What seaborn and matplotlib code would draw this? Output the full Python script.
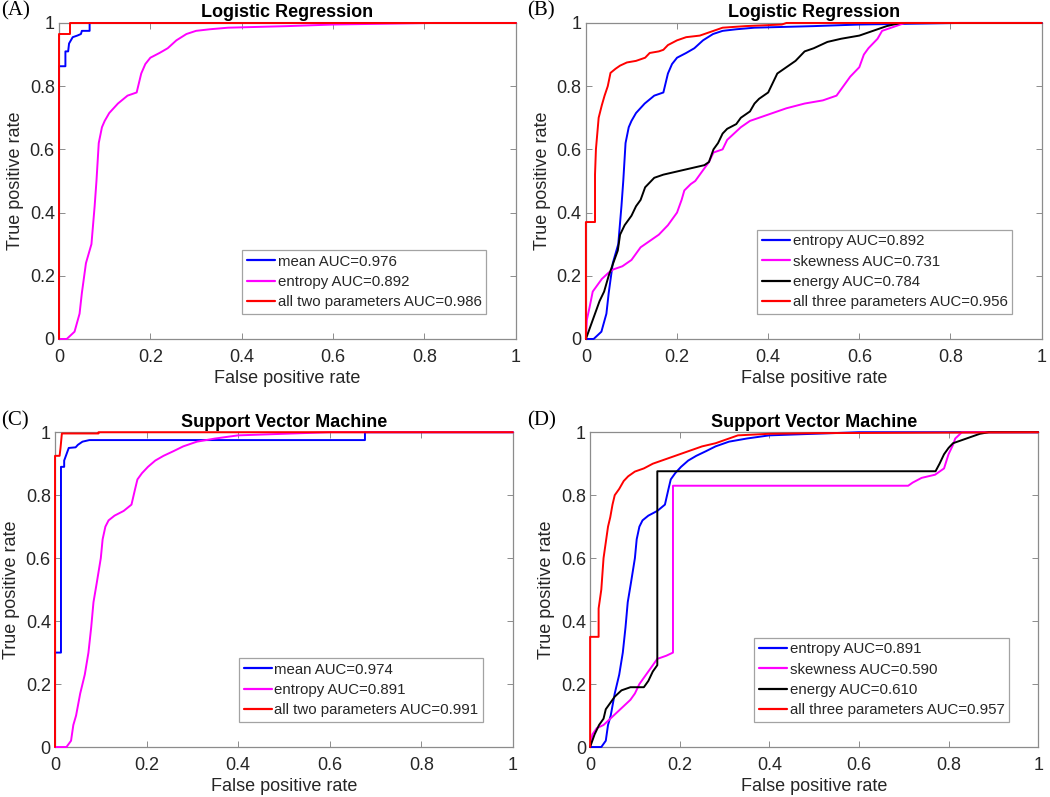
import numpy as np
import pandas as pd
import seaborn as sns
import matplotlib.pyplot as plt

# --- ROC curve vertices (FPR, TPR) ---

# Logistic regression
lr_mean_fpr = [0, 0, 0.014, 0.014, 0.02, 0.022, 0.03, 0.04, 0.048, 0.05, 0.067, 0.067, 1]
lr_mean_tpr = [0, 0.863, 0.863, 0.91, 0.91, 0.935, 0.955, 0.96, 0.965, 0.975, 0.975, 1, 1]

lr_entropy_fpr = [0, 0.017, 0.034, 0.045, 0.05, 0.059, 0.071, 0.078, 0.082, 0.087, 0.094, 0.1,
                  0.11, 0.129, 0.15, 0.17, 0.18, 0.189, 0.2, 0.22, 0.238, 0.257, 0.279,
                  0.3, 0.33, 0.37, 0.5, 0.6, 0.82, 1]
lr_entropy_tpr = [0, 0, 0.023, 0.08, 0.145, 0.24, 0.3, 0.42, 0.5, 0.62, 0.67, 0.69,
                  0.715, 0.745, 0.77, 0.78, 0.84, 0.87, 0.89, 0.905, 0.92, 0.945, 0.965,
                  0.975, 0.98, 0.985, 0.99, 0.995, 1, 1]

lr_two_fpr = [0, 0, 0.024, 0.024, 1]
lr_two_tpr = [0, 0.965, 0.965, 1, 1]

lr_skew_fpr = [0, 0.002, 0.008, 0.015, 0.025, 0.035, 0.05, 0.06, 0.08, 0.1, 0.11, 0.12, 0.14,
               0.16, 0.18, 0.19, 0.2, 0.21, 0.216, 0.23, 0.24, 0.26, 0.27, 0.28, 0.3, 0.31,
               0.34, 0.36, 0.4, 0.44, 0.48, 0.52, 0.55, 0.565, 0.58, 0.6, 0.61, 0.62, 0.64,
               0.65, 0.68, 0.7, 1]
lr_skew_tpr = [0, 0.06, 0.1, 0.15, 0.17, 0.19, 0.21, 0.22, 0.23, 0.25, 0.27, 0.29, 0.31,
               0.33, 0.36, 0.38, 0.4, 0.44, 0.47, 0.49, 0.5, 0.54, 0.56, 0.59, 0.6, 0.63,
               0.67, 0.69, 0.71, 0.73, 0.745, 0.755, 0.77, 0.8, 0.83, 0.86, 0.9, 0.92, 0.95,
               0.975, 0.99, 1, 1]

lr_energy_fpr = [0, 0.01, 0.02, 0.03, 0.04, 0.05, 0.06, 0.07, 0.075, 0.085, 0.1, 0.11, 0.12,
                 0.13, 0.15, 0.17, 0.2, 0.23, 0.26, 0.27, 0.28, 0.29, 0.3, 0.31, 0.33, 0.34,
                 0.36, 0.37, 0.38, 0.4, 0.41, 0.42, 0.44, 0.46, 0.48, 0.5, 0.53, 0.56, 0.6,
                 0.63, 0.66, 0.69, 1]
lr_energy_tpr = [0, 0.04, 0.08, 0.12, 0.15, 0.2, 0.24, 0.28, 0.33, 0.36, 0.39, 0.42, 0.44,
                 0.48, 0.51, 0.52, 0.53, 0.54, 0.55, 0.56, 0.6, 0.62, 0.65, 0.665, 0.68, 0.7,
                 0.72, 0.745, 0.76, 0.78, 0.81, 0.84, 0.86, 0.88, 0.91, 0.92, 0.94, 0.95, 0.96,
                 0.975, 0.99, 1, 1]

lr_three_fpr = [0, 0, 0.02, 0.02, 0.022, 0.028, 0.035, 0.041, 0.048, 0.054, 0.065, 0.075,
                0.09, 0.11, 0.13, 0.14, 0.16, 0.17, 0.18, 0.2, 0.22, 0.25, 0.27, 0.3, 0.35,
                0.43, 0.44, 1]
lr_three_tpr = [0, 0.37, 0.37, 0.52, 0.6, 0.7, 0.74, 0.77, 0.8, 0.842, 0.855, 0.865,
                0.875, 0.88, 0.89, 0.905, 0.91, 0.915, 0.93, 0.945, 0.955, 0.96, 0.97, 0.985,
                0.99, 0.995, 1, 1]

# Support vector machine
svm_mean_fpr = [0, 0, 0.013, 0.013, 0.02, 0.02, 0.025, 0.03, 0.045, 0.05, 0.06, 0.075,
                0.677, 0.677, 1]
svm_mean_tpr = [0, 0.3, 0.3, 0.89, 0.89, 0.91, 0.93, 0.95, 0.952, 0.96, 0.97, 0.975,
                0.975, 1, 1]

svm_entropy_fpr = [0, 0.025, 0.035, 0.04, 0.046, 0.055, 0.065, 0.073, 0.079, 0.084, 0.091,
                   0.1, 0.104, 0.11, 0.117, 0.13, 0.15, 0.167, 0.175, 0.18, 0.19, 0.203,
                   0.219, 0.237, 0.259, 0.28, 0.31, 0.35, 0.4, 0.5, 0.6, 1]
svm_entropy_tpr = [0, 0, 0.02, 0.07, 0.1, 0.17, 0.23, 0.3, 0.38, 0.46, 0.52,
                   0.6, 0.66, 0.7, 0.72, 0.735, 0.75, 0.77, 0.82, 0.85, 0.87, 0.89,
                   0.91, 0.925, 0.94, 0.955, 0.97, 0.98, 0.99, 0.995, 1, 1]

svm_two_fpr = [0, 0, 0.01, 0.012, 0.015, 0.095, 0.095, 1]
svm_two_tpr = [0, 0.925, 0.925, 0.95, 0.996, 0.996, 1, 1]

svm_skew_fpr = [0, 0.005, 0.015, 0.03, 0.045, 0.06, 0.075, 0.09, 0.1, 0.11, 0.12, 0.13, 0.14,
                0.15, 0.17, 0.185, 0.185, 0.71, 0.72, 0.74, 0.77, 0.79, 0.8, 0.81, 0.815,
                0.83, 1]
svm_skew_tpr = [0, 0.04, 0.06, 0.07, 0.09, 0.11, 0.13, 0.15, 0.17, 0.2, 0.22, 0.24, 0.26,
                0.28, 0.29, 0.3, 0.83, 0.83, 0.84, 0.855, 0.865, 0.885, 0.93, 0.96, 0.98,
                1, 1]

svm_energy_fpr = [0, 0.01, 0.02, 0.03, 0.035, 0.045, 0.055, 0.07, 0.09, 0.12, 0.13, 0.14,
                  0.15, 0.15, 0.771, 0.78, 0.79, 0.8, 0.81, 0.83, 0.85, 0.87, 0.89, 1]
svm_energy_tpr = [0, 0.04, 0.07, 0.09, 0.12, 0.14, 0.16, 0.18, 0.19, 0.19, 0.21, 0.24,
                  0.26, 0.876, 0.876, 0.9, 0.93, 0.95, 0.965, 0.975, 0.985, 0.995, 1, 1]

svm_three_fpr = [0, 0, 0.019, 0.019, 0.025, 0.03, 0.035, 0.04, 0.045, 0.05, 0.055, 0.065,
                 0.075, 0.085, 0.1, 0.12, 0.14, 0.16, 0.19, 0.22, 0.25, 0.28, 0.3, 0.33,
                 0.4, 0.5, 1]
svm_three_tpr = [0, 0.35, 0.35, 0.44, 0.5, 0.6, 0.65, 0.7, 0.73, 0.77, 0.8, 0.82,
                 0.845, 0.86, 0.875, 0.885, 0.9, 0.91, 0.925, 0.94, 0.955, 0.965, 0.975, 0.99,
                 0.995, 0.997, 1]

BLUE, MAGENTA, BLACK, RED = "#0000ff", "#ff00ff", "#000000", "#ff0000"

# tag, title, axes rect, tag position (figure coords), curves
panels = [
    ("(A)", "Logistic Regression", [0.0562, 0.5747, 0.435, 0.3965], (0.001, 0.998),
     [("mean AUC=0.976", lr_mean_fpr, lr_mean_tpr, BLUE),
      ("entropy AUC=0.892", lr_entropy_fpr, lr_entropy_tpr, MAGENTA),
      ("all two parameters AUC=0.986", lr_two_fpr, lr_two_tpr, RED)]),
    ("(B)", "Logistic Regression", [0.558, 0.5747, 0.434, 0.3965], (0.502, 0.998),
     [("entropy AUC=0.892", lr_entropy_fpr, lr_entropy_tpr, BLUE),
      ("skewness AUC=0.731", lr_skew_fpr, lr_skew_tpr, MAGENTA),
      ("energy AUC=0.784", lr_energy_fpr, lr_energy_tpr, BLACK),
      ("all three parameters AUC=0.956", lr_three_fpr, lr_three_tpr, RED)]),
    ("(C)", "Support Vector Machine", [0.0524, 0.0627, 0.436, 0.395], (0.001, 0.484),
     [("mean AUC=0.974", svm_mean_fpr, svm_mean_tpr, BLUE),
      ("entropy AUC=0.891", svm_entropy_fpr, svm_entropy_tpr, MAGENTA),
      ("all two parameters AUC=0.991", svm_two_fpr, svm_two_tpr, RED)]),
    ("(D)", "Support Vector Machine", [0.562, 0.0627, 0.4267, 0.395], (0.502, 0.484),
     [("entropy AUC=0.891", svm_entropy_fpr, svm_entropy_tpr, BLUE),
      ("skewness AUC=0.590", svm_skew_fpr, svm_skew_tpr, MAGENTA),
      ("energy AUC=0.610", svm_energy_fpr, svm_energy_tpr, BLACK),
      ("all three parameters AUC=0.957", svm_three_fpr, svm_three_tpr, RED)]),
]

sns.set_theme(style="ticks")
plt.rcParams['font.family'] = ['Liberation Sans', 'DejaVu Sans']
plt.rcParams['text.color'] = '#262626'
plt.rcParams['axes.labelcolor'] = '#262626'
plt.rcParams['xtick.color'] = '#262626'
plt.rcParams['ytick.color'] = '#262626'

fig = plt.figure(figsize=(10.5, 7.97), dpi=100)

for tag, title, rect, tagpos, curves in panels:
    ax = fig.add_axes(rect)
    frames = []
    for name, fpr, tpr, color in curves:
        frames.append(pd.DataFrame({"fpr": fpr, "tpr": tpr, "curve": name}))
    df = pd.concat(frames, ignore_index=True)
    palette = {name: color for name, _, _, color in curves}
    sns.lineplot(data=df, x="fpr", y="tpr", hue="curve", palette=palette,
                 sort=False, estimator=None, linewidth=1.4, ax=ax)
    # MATLAB draws the curves over the box
    for ln in ax.lines:
        ln.set_clip_on(False)
        ln.set_zorder(3)

    ax.set_xlim(0, 1)
    ax.set_ylim(0, 1)
    ticks = [0, 0.2, 0.4, 0.6, 0.8, 1]
    ticklabels = ["0", "0.2", "0.4", "0.6", "0.8", "1"]
    ax.set_xticks(ticks)
    ax.set_xticklabels(ticklabels)
    ax.set_yticks(ticks)
    ax.set_yticklabels(ticklabels)
    ax.tick_params(direction="in", length=4, width=0.7, top=True, right=True,
                   labelsize=13, color="#8c8c8c")
    ax.tick_params(axis="x", pad=7)
    ax.tick_params(axis="y", pad=3)
    for sp in ax.spines.values():
        sp.set_visible(True)
        sp.set_color("#8c8c8c")
        sp.set_linewidth(0.9)
    ax.set_xlabel("False positive rate", fontsize=13, labelpad=3)
    ax.set_ylabel("True positive rate", fontsize=13, labelpad=4)
    ax.set_title(title, fontsize=13, fontweight="bold", pad=4, color="black")

    leg = ax.legend(loc="lower right", bbox_to_anchor=(0.935, 0.08), fontsize=10.8,
                    frameon=True, fancybox=False, handlelength=1.9, handletextpad=0.15,
                    borderpad=0.3, labelspacing=0.42, borderaxespad=0)
    leg.get_frame().set_edgecolor("#8c8c8c")
    leg.get_frame().set_linewidth(0.9)
    for line in leg.get_lines():
        line.set_linewidth(1.6)

    # panel tag in serif at the upper-left corner
    fig.text(tagpos[0], tagpos[1], tag, fontsize=15,
             family=['Liberation Serif', 'DejaVu Serif'], ha="left", va="top",
             color="black")

fig.savefig("out.png", dpi=100)
